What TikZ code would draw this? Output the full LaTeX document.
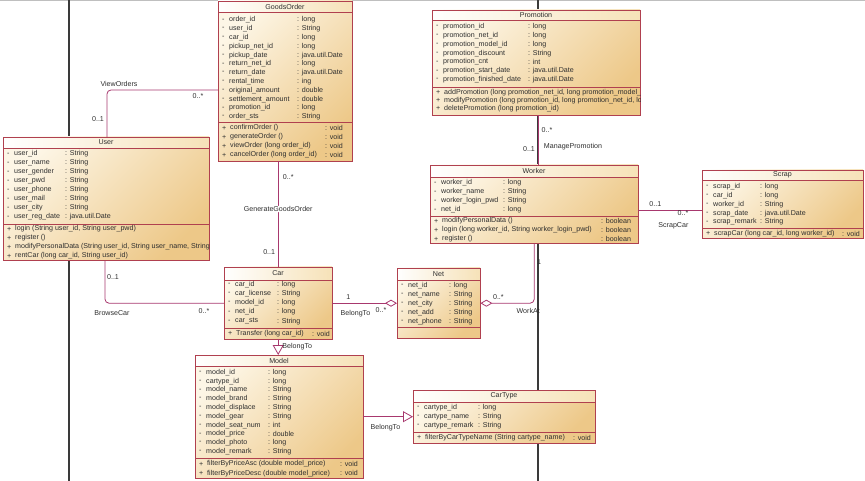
\documentclass[tikz,border=0pt]{standalone}
\usepackage{fontspec}
\setmainfont{Liberation Sans}
\usetikzlibrary{positioning,arrows.meta,calc}
\definecolor{umlBorder}{HTML}{B0404F}
\definecolor{umlLink}{HTML}{A8386E}
\definecolor{umlLight}{HTML}{FDF6E6}
\definecolor{umlDark}{HTML}{EDC888}
\definecolor{umlTitle}{HTML}{F6E2B8}
\definecolor{umlText}{HTML}{2E2E2E}
\definecolor{laneGray}{HTML}{3A3A3A}

% class frame: id, title, left, top, width, title h, attr h, total h
\newcommand{\umlclass}[8]{%
  \node[classbox, minimum width=#5, minimum height=#8, anchor=north west] (#1) at (#3,#4) {};
  \shade[titleband] (#3,#4) rectangle ++(#5,#6);
  \draw[sepline] (#3,#4) rectangle ++(#5,#8);
  \draw[sepline] (#3,#4+#6) -- ++(#5,0);
  \draw[sepline] (#3,#4+#6+#7) -- ++(#5,0);
  \node[ctitle] (#1-t) at (#3+#5/2,#4+#6/2) {#2};
}
% attributes: id, left, type x, first y, step, list name/type
\newcommand{\umlattrs}[6]{%
  \foreach \nm/\ty [count=\k from 0] in {#6} {
    \node[row] (#1-d\k) at (#2+4,#4+#5*\k) {-};
    \node[row] (#1-a\k) at (#2+11,#4+#5*\k) {\nm};
    \node[row] (#1-y\k) at (#3,#4+#5*\k) {: \ty};
  }
}
% operations: id, left, return x, first y, step, list text/return
\newcommand{\umlops}[6]{%
  \begin{scope}
    \clip (#1.north west) rectangle (#1.south east);
    \foreach \op/\rt [count=\k from 0] in {#6} {
      \node[row] (#1-p\k) at (#2+4,#4+#5*\k) {+};
      \node[row] (#1-o\k) at (#2+12,#4+#5*\k) {\op};
      \node[row] (#1-r\k) at (#3,#4+#5*\k) {\rt};
    }
  \end{scope}
}

\begin{document}
\begin{tikzpicture}[
  x=1pt, y=-1pt,
  font=\fontsize{7.1}{8}\selectfont, text=umlText,
  classbox/.style={rectangle, inner sep=0pt,
    top color=umlLight, bottom color=umlDark, shading angle=45},
  titleband/.style={left color=white, right color=umlTitle},
  sepline/.style={draw=umlBorder, line width=0.8pt},
  ctitle/.style={inner sep=0pt},
  row/.style={anchor=west, inner sep=0pt},
  lane/.style={draw=laneGray, line width=1.1pt},
  link/.style={draw=umlLink, line width=0.8pt, rounded corners=4pt},
  aggr/.style={link, -{Diamond[open, length=12pt, width=7pt]}},
  genz/.style={link, -{Triangle[open, length=10pt, width=11pt]}},
  lbl/.style={inner sep=0.5pt}
]
\useasboundingbox (0,0) rectangle (865,481);
\draw[gray!50, line width=1pt] (0,0.5) -- (865,0.5);

% ---- lanes ----------------------------------------------------------------
\draw[lane] (69,0) -- (69,481);
\draw[lane] (538,0) -- (538,481);

% ---- classes --------------------------------------------------------------
\umlclass{user}{User}{3}{137}{206}{11}{76}{123}
\umlattrs{user}{3}{65}{154}{9}{user\_id/String, user\_name/String, user\_gender/String,
  user\_pwd/String, user\_phone/String, user\_mail/String, user\_city/String,
  user\_reg\_date/java.util.Date}
\umlops{user}{3}{260}{229}{9}{{login (String user\_id, String user\_pwd)}/{},
  {register ()}/{}, {modifyPersonalData (String user\_id, String user\_name, String user\_pwd)}/{},
  {rentCar (long car\_id, String user\_id)}/{}}

\umlclass{order}{GoodsOrder}{218}{1}{134}{11}{110}{160}
\umlattrs{order}{218}{297}{20}{8.8}{order\_id/long, user\_id/String, car\_id/long,
  pickup\_net\_id/long, pickup\_date/java.util.Date, return\_net\_id/long,
  return\_date/java.util.Date, rental\_time/ing, original\_amount/double,
  settlement\_amount/double, promotion\_id/long, order\_sts/String}
\umlops{order}{218}{325}{128}{9}{{confirmOrder ()}/{: void}, {generateOrder ()}/{: void},
  {viewOrder (long order\_id)}/{: void}, {cancelOrder (long order\_id)}/{: void}}

\umlclass{promo}{Promotion}{432}{10}{208}{10}{67}{105}
\umlattrs{promo}{432}{528}{26.5}{8.9}{promotion\_id/long, promotion\_net\_id/long,
  promotion\_model\_id/long, promotion\_discount/String, promotion\_cnt/int,
  promotion\_start\_date/java.util.Date, promotion\_finished\_date/java.util.Date}
\umlops{promo}{432}{700}{92.3}{8}{{addPromotion (long promotion\_net\_id, long promotion\_model\_id, String promotion\_discount)}/{},
  {modifyPromotion (long promotion\_id, long promotion\_net\_id, long promotion\_model\_id)}/{},
  {deletePromotion (long promotion\_id)}/{}}

\umlclass{worker}{Worker}{430}{165}{208}{12}{39}{78}
\umlattrs{worker}{430}{503}{183}{9}{worker\_id/long, worker\_name/String,
  worker\_login\_pwd/String, net\_id/long}
\umlops{worker}{430}{601}{221}{9}{{modifyPersonalData ()}/{: boolean},
  {login (long worker\_id, String worker\_login\_pwd)}/{: boolean}, {register ()}/{: boolean}}

\umlclass{scrap}{Scrap}{702}{170}{161}{10}{48}{68}
\umlattrs{scrap}{702}{760}{186.5}{8.9}{scrap\_id/long, car\_id/long, worker\_id/String,
  scrap\_date/java.util.Date, scrap\_remark/String}
\umlops{scrap}{702}{842}{233.5}{9}{{scrapCar (long car\_id, long worker\_id)}/{: void}}

\umlclass{car}{Car}{224}{267}{108}{13}{48}{72}
\umlattrs{car}{224}{277}{284.5}{9.2}{car\_id/long, car\_license/String, model\_id/long,
  net\_id/long, car\_sts/String}
\umlops{car}{224}{312}{333.5}{9}{{Transfer (long car\_id)}/{: void}}

\umlclass{net}{Net}{397}{268}{83}{12}{47}{70}
\umlattrs{net}{397}{449}{285.5}{9}{net\_id/long, net\_name/String, net\_city/String,
  net\_add/String, net\_phone/String}

\umlclass{model}{Model}{195}{355}{168}{11}{92}{123}
\umlattrs{model}{195}{268}{372.5}{8.8}{model\_id/long, cartype\_id/long, model\_name/String,
  model\_brand/String, model\_displace/String, model\_gear/String, model\_seat\_num/int,
  model\_price/double, model\_photo/long, model\_remark/String}
\umlops{model}{195}{340}{464}{9.3}{{filterByPriceAsc (double model\_price)}/{: void},
  {filterByPriceDesc (double model\_price)}/{: void}}

\umlclass{cartype}{CarType}{413}{390}{182}{12}{30}{53}
\umlattrs{cartype}{413}{478}{407.5}{9.2}{cartype\_id/long, cartype\_name/String,
  cartype\_remark/String}
\umlops{cartype}{413}{573}{437.5}{9}{{filterByCarTypeName (String cartype\_name)}/{: void}}

% ---- associations ---------------------------------------------------------
\draw[link] ([xshift=104pt]user.north west) |- ([yshift=-89pt]order.north west)
  node[lbl, at start, xshift=-9pt, yshift=18pt] (vo-a) {0..1}
  node[lbl, pos=0.5, xshift=12pt, yshift=6pt] (vo-l) {ViewOrders}
  node[lbl, at end, xshift=-20pt, yshift=-6pt] (vo-b) {0..*};

\draw[link] (order.south -| car.north) -- (car.north)
  node[lbl, at start, xshift=10pt, yshift=-16pt] (gg-a) {0..*}
  node[lbl, pos=0.45, fill=white] (gg-l) {GenerateGoodsOrder}
  node[lbl, at end, xshift=-9pt, yshift=15pt] (gg-b) {0..1};

\draw[link] ([xshift=102pt]user.south west) |- (car.west)
  node[lbl, at start, xshift=8pt, yshift=-17pt] (bc-a) {0..1}
  node[lbl, pos=0.5, xshift=7pt, yshift=-10pt] (bc-l) {BrowseCar}
  node[lbl, at end, xshift=-20pt, yshift=-8pt] (bc-b) {0..*};

\draw[aggr] (car.east) -- (car.east -| net.west)
  node[lbl, at start, xshift=16pt, yshift=6pt] (bt-a) {1}
  node[lbl, at start, xshift=23pt, yshift=-10pt] (bt-l) {BelongTo}
  node[lbl, at end, xshift=-16pt, yshift=-7pt] (bt-b) {0..*};

\draw[aggr] (worker.south) |- (net.east)
  node[lbl, at start, xshift=5pt, yshift=-19pt] (wa-a) {1}
  node[lbl, pos=0.5, xshift=-6pt, yshift=-8pt] (wa-l) {WorkAt}
  node[lbl, at end, xshift=18pt, yshift=6pt] (wa-b) {0..*};

\draw[link] ([xshift=106pt]promo.south west) -- ([xshift=108pt]worker.north west)
  node[lbl, at start, xshift=9pt, yshift=-15pt] (mp-a) {0..*}
  node[lbl, at start, xshift=35pt, yshift=-31pt] (mp-l) {ManagePromotion}
  node[lbl, at end, xshift=-9pt, yshift=16pt] (mp-b) {0..1};

\draw[link] ([yshift=-6pt]worker.east) -- ([yshift=-6pt]worker.east -| scrap.west)
  node[lbl, at start, xshift=17pt, yshift=6pt] (sc-a) {0..1}
  node[lbl, at end, xshift=-19pt, yshift=-3pt] (sc-b) {0..*}
  node[lbl, at start, xshift=35pt, yshift=-16pt] (sc-l) {ScrapCar};

% ---- generalisations ------------------------------------------------------
\draw[genz] (car.south) -- (car.south |- model.north)
  node[lbl, at start, xshift=19pt, yshift=-7pt] (cm-l) {BelongTo};

\draw[genz] (model.east) -- (cartype.west)
  node[lbl, at start, xshift=22pt, yshift=-11pt] (mc-l) {BelongTo};

\end{tikzpicture}
\end{document}
